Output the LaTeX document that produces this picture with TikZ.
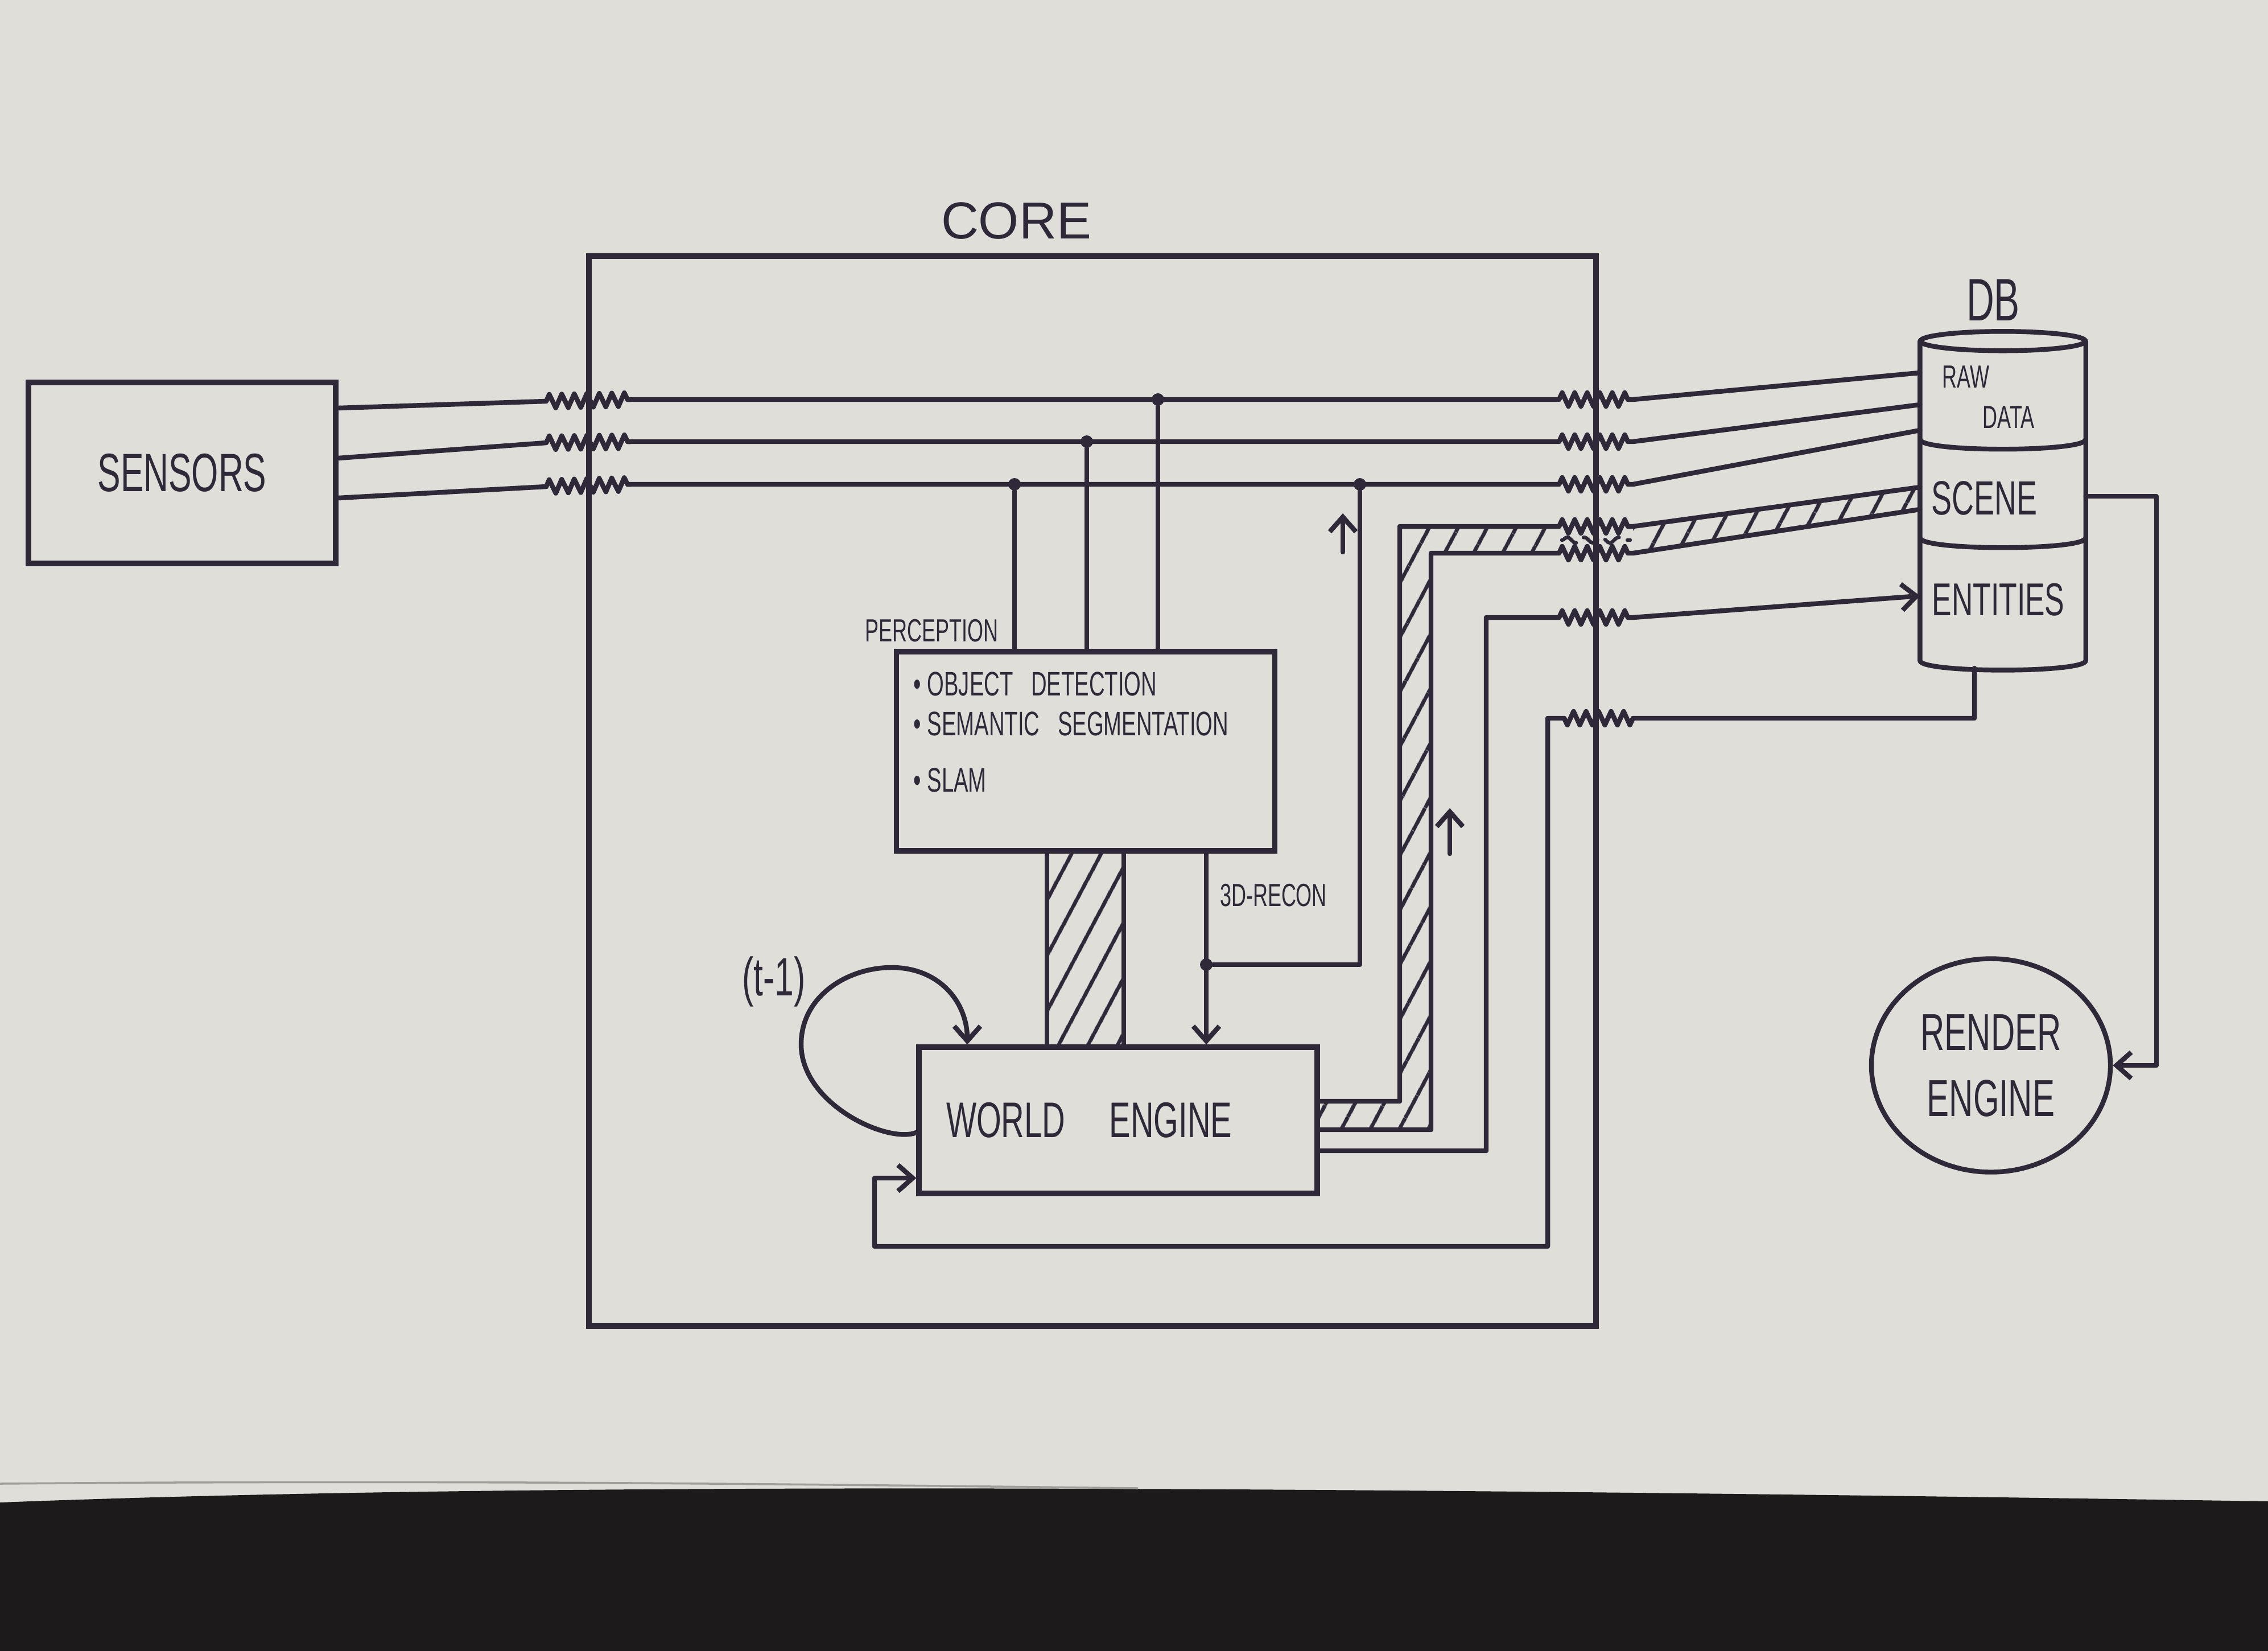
\documentclass[tikz,border=0pt]{standalone}
\usepackage{fontspec}
\setmainfont{Liberation Sans}
\newfontfamily\handfont[FakeStretch=0.64]{Liberation Sans}
\usetikzlibrary{positioning,shapes.geometric,arrows.meta,decorations.pathmorphing,patterns.meta}
\definecolor{ink}{HTML}{2E2838}
\definecolor{paper}{RGB}{223,222,217}
\definecolor{paperedge}{RGB}{160,158,154}
\definecolor{desk}{RGB}{28,26,27}
\tikzset{
  box/.style={
    rectangle, draw=ink, line width=2.6pt, inner sep=0pt
  },
  wire/.style={
    draw=ink, line width=2.4pt, line join=round, line cap=round
  },
  barb/.style={
    -{Straight Barb[length=2.6mm, width=4.6mm]}
  },
  junction/.style={
    circle, fill=ink, inner sep=0pt, minimum size=2.2mm
  },
  zz/.style={
    decoration={zigzag, segment length=2.2mm, amplitude=1.2mm}
  },
  hatch/.style={
    pattern={Lines[angle=62, distance=13pt, line width=2pt]}, pattern color=ink
  },
  lbl/.style={
    text=ink, inner sep=0pt, font=\handfont\fontsize{#1}{#1}\selectfont
  },
  lbl/.default=24pt,
  title/.style={
    text=ink, inner sep=0pt, font=\fontsize{26pt}{26pt}\selectfont
  }
}

\begin{document}
\begin{tikzpicture}[x=1cm, y=-1cm]
  \useasboundingbox (0,0) rectangle (39.86,29.01);
  % ------------------------------------------------
  % paper and desk
  % ------------------------------------------------
  \fill[paper] (0,0) rectangle (39.86,29.01);
  \fill[desk] (0,26.40) .. controls (9,26.05) and (22,26.10) .. (39.86,26.38)
    -- (39.86,29.01) -- (0,29.01) -- cycle;
  \draw[paperedge, line width=1pt] (0,26.07) .. controls (8,26.00) and (14,26.08) .. (20,26.15);

  % ------------------------------------------------
  % boxes: sensors, core, perception, world engine
  % ------------------------------------------------
  \node[box, lbl=27pt, minimum width=5.40cm, minimum height=3.18cm] (sensors) at (3.20,8.31) {SENSORS};
  \node[box, minimum width=17.70cm, minimum height=18.80cm] (core) at (19.20,13.90) {};
  \node[title] (coretitle) at (17.86,3.88) {CORE};

  \node[box, minimum width=6.65cm, minimum height=3.50cm] (perc) at (19.08,13.20) {};
  \node[lbl=16pt] (perctitle) at (16.37,11.08) {PERCEPTION};
  \node[lbl=17pt, anchor=north west, align=left] (items) at (16.05,11.80)
    {• OBJECT \hspace{6pt}DETECTION\\[3pt]• SEMANTIC \hspace{6pt}SEGMENTATION\\[11pt]• SLAM};

  \node[box, lbl=25pt, minimum width=7.00cm, minimum height=2.57cm,
        text width=6.6cm, align=left] (we) at (19.65,19.685)
    {\hspace{8pt}WORLD\hspace{22pt}ENGINE};

  % ------------------------------------------------
  % DB cylinder and render engine
  % ------------------------------------------------
  \node[minimum width=2.90cm, minimum height=5.60cm, inner sep=0pt] (db) at (35.20,8.80) {};
  \draw[wire] (db.north) ellipse [x radius=1.45, y radius=0.17];
  \draw[wire] (db.north west) -- (db.south west)
    .. controls (33.75,11.83) and (36.65,11.83) .. (db.south east) -- (db.north east);
  \draw[wire] (db.west |- 0,7.72) .. controls (33.75,7.95) and (36.65,7.95) .. (db.east |- 0,7.72);
  \draw[wire] (db.west |- 0,9.45) .. controls (33.75,9.68) and (36.65,9.68) .. (db.east |- 0,9.45);
  \node[lbl=30pt] (dbtitle) at (35.03,5.27) {DB};
  \node[lbl=16pt] (raw) at (34.55,6.62) {RAW};
  \node[lbl=16pt] (data) at (35.30,7.33) {DATA};
  \node[lbl=24pt] (scene) at (34.87,8.75) {SCENE};
  \node[lbl=23pt] (entities) at (35.12,10.54) {ENTITIES};

  \node[ellipse, draw=ink, line width=2.4pt, lbl=26pt, align=center,
        minimum width=4.20cm, minimum height=3.75cm] (render) at (34.99,18.72)
    {RENDER\\[7pt]ENGINE};

  % ------------------------------------------------
  % sensor channels -> raw data
  % ------------------------------------------------
  \draw[wire] (sensors.east |- 0,7.17) -- (9.60,7.05) decorate[zz]{-- (11.10,7.02)}
    -- (27.40,7.02) decorate[zz]{-- (28.70,7.02)} -- (db.west |- 0,6.55);
  \draw[wire] (sensors.east |- 0,8.05) -- (9.60,7.78) decorate[zz]{-- (11.10,7.76)}
    -- (27.40,7.76) decorate[zz]{-- (28.70,7.76)} -- (db.west |- 0,7.11);
  \draw[wire] (sensors.east |- 0,8.75) -- (9.60,8.55) decorate[zz]{-- (11.10,8.51)}
    -- (27.40,8.51) decorate[zz]{-- (28.70,8.51)} -- (db.west |- 0,7.56);

  \node[junction] (j1) at (20.35,7.02) {};
  \node[junction] (j2) at (19.10,7.76) {};
  \node[junction] (j3) at (17.83,8.51) {};
  \node[junction] (j4) at (23.90,8.51) {};
  \draw[wire] (j1) -- (j1 |- perc.north);
  \draw[wire] (j2) -- (j2 |- perc.north);
  \draw[wire] (j3) -- (j3 |- perc.north);

  % ------------------------------------------------
  % perception -> world engine
  % ------------------------------------------------
  \fill[hatch] (perc.south -| 18.40,0) rectangle (we.north -| 19.75,0);
  \draw[wire] (perc.south -| 18.40,0) -- (we.north -| 18.40,0);
  \draw[wire] (perc.south -| 19.75,0) -- (we.north -| 19.75,0);

  \draw[wire, barb] (perc.south -| 21.20,0) -- (we.north -| 21.20,0);
  \node[lbl=16pt] (recon) at (22.38,15.73) {3D-RECON};
  \node[junction] (j5) at (21.20,16.95) {};
  \draw[wire] (j5) -| (j4);
  \coordinate (up1) at (23.60,9.70);
  \draw[wire, barb] (up1) -- ++(0,-0.68);

  % (t-1) feedback
  \draw[wire, barb] (we.west |- 0,19.90) .. controls (15.60,20.10) and (14.08,19.40) .. (14.08,18.35)
    .. controls (14.08,17.50) and (14.90,17.00) .. (15.67,17.00)
    .. controls (16.50,17.00) and (17.00,17.60) .. (we.north -| 17.00,0);
  \node[lbl=27pt] (tprev) at (13.60,17.25) {(t-1)};

  % ------------------------------------------------
  % world engine -> scene (hatched band)
  % ------------------------------------------------
  \fill[hatch] (we.east |- 0,19.35) -- (24.60,19.35) -- (24.60,9.25) -- (27.40,9.25)
    -- (27.40,9.72) -- (25.15,9.72) -- (25.15,19.85) -- (we.east |- 0,19.85) -- cycle;
  \fill[hatch] (28.70,9.25) -- (db.west |- 0,8.56) -- (db.west |- 0,8.95) -- (28.70,9.72) -- cycle;
  \draw[wire] (we.east |- 0,19.35) -- (24.60,19.35) -- (24.60,9.25) -- (27.40,9.25)
    decorate[zz]{-- (28.70,9.25)} -- (db.west |- 0,8.56);
  \draw[wire] (we.east |- 0,19.85) -- (25.15,19.85) -- (25.15,9.72) -- (27.40,9.72)
    decorate[zz]{-- (28.70,9.72)} -- (db.west |- 0,8.95);
  \draw[wire, line width=1.8pt, dash pattern=on 3mm off 1.6mm, decorate,
        decoration={snake, segment length=3mm, amplitude=0.5mm}] (27.45,9.49) -- (28.65,9.49);
  \coordinate (up2) at (25.48,15.00);
  \draw[wire, barb] (up2) -- ++(0,-0.80);

  % ------------------------------------------------
  % world engine -> entities, entities -> world engine
  % ------------------------------------------------
  \draw[wire, barb] (we.east |- 0,20.22) -| (26.12,10.85) -- (27.40,10.85)
    decorate[zz]{-- (28.70,10.85)} -- (db.west |- 0,10.47);

  \coordinate (dbout) at (34.70,11.74);
  \draw[wire, barb] (dbout) -- (34.70,12.62) -- (28.70,12.62) decorate[zz]{-- (27.40,12.62)}
    -- (27.20,12.62) -- (27.20,21.90) -- (15.37,21.90) -- (15.37,20.70) -- (we.west |- 0,20.70);

  % scene -> render engine
  \draw[wire, barb] (db.east |- 0,8.72) -- (37.90,8.72) |- (render.east);
\end{tikzpicture}
\end{document}
